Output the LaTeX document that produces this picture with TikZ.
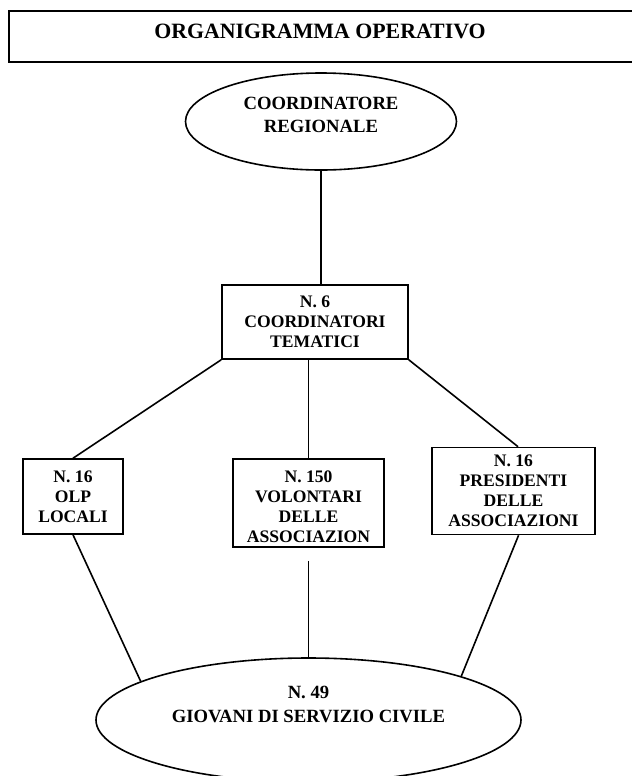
\documentclass[tikz,border=0pt]{standalone}
\usepackage{fontspec}
\setmainfont{Liberation Serif}
\usetikzlibrary{shapes.geometric}
\begin{document}
\begin{tikzpicture}[x=0.75pt,y=-0.75pt,
  conn/.style={line width=1.2pt},
  boxnode/.style={draw,line width=1.2pt,rectangle,inner sep=0pt,align=center,
    font=\bfseries\fontsize{13.2}{15}\selectfont},
  ellnode/.style={draw,line width=1.2pt,ellipse,inner sep=0pt},
  elltext/.style={inner sep=0pt,align=center,font=\bfseries\fontsize{14}{17.5}\selectfont},
  titletext/.style={inner sep=0pt,font=\bfseries\fontsize{16.4}{19}\selectfont}]
\useasboundingbox (0,0) rectangle (632,776);
\clip (0,0) rectangle (632,776);
% title
\draw[line width=1.2pt] (9,11) rectangle (645,62);
\node[titletext] (title) at (320,31) {ORGANIGRAMMA OPERATIVO};
% top ellipse
\node[ellnode,minimum width=203.25pt,minimum height=72.75pt] (creg) at (321,121.5) {};
\node[elltext] (cregtxt) at (321,115) {COORDINATORE\\REGIONALE};
% coordinatori tematici
\node[boxnode,minimum width=139.5pt,minimum height=55.5pt] (ct) at (315,322) {N. 6\\COORDINATORI\\TEMATICI};
% lower boxes
\node[boxnode,minimum width=75pt,minimum height=56.25pt] (olp) at (73,496.5) {N. 16\\OLP\\LOCALI};
\node[boxnode,minimum width=113.25pt,minimum height=66pt] (vol) at (308.5,503) {};
\begin{scope}
  \clip ([xshift=1pt,yshift=4pt]vol.south west) rectangle (vol.north east);
  \node[inner sep=0pt,align=center,font=\bfseries\fontsize{13.2}{15}\selectfont] (voltxt) at (308.5,507) {N. 150\\VOLONTARI\\DELLE\\ASSOCIAZION};
\end{scope}
\node[boxnode,minimum width=122.25pt,minimum height=65.25pt] (pres) at (513.5,491) {N. 16\\PRESIDENTI\\DELLE\\ASSOCIAZIONI};
% bottom ellipse
\node[ellnode,minimum width=318.75pt,minimum height=93pt] (giov) at (308.5,720) {};
\node[elltext] (giovtxt) at (308.5,704.5) {N. 49\\GIOVANI DI SERVIZIO CIVILE};
% connectors
\draw[conn] (creg.south) -- (creg.south |- ct.north);
\draw[conn] (ct.south west) -- (olp.north);
\draw[conn] (vol.north |- ct.south) -- (vol.north);
\draw[conn] (ct.south east) -- ([xshift=3.4pt]pres.north);
\coordinate (volgap) at ([yshift=-9.75pt]vol.south);
\draw[conn] (volgap) -- (giov.north);
\draw[conn] (olp.south) -- (giov.167.3);
\draw[conn] ([xshift=3.8pt]pres.south) -- (giov.16.5);
\end{tikzpicture}
\end{document}
